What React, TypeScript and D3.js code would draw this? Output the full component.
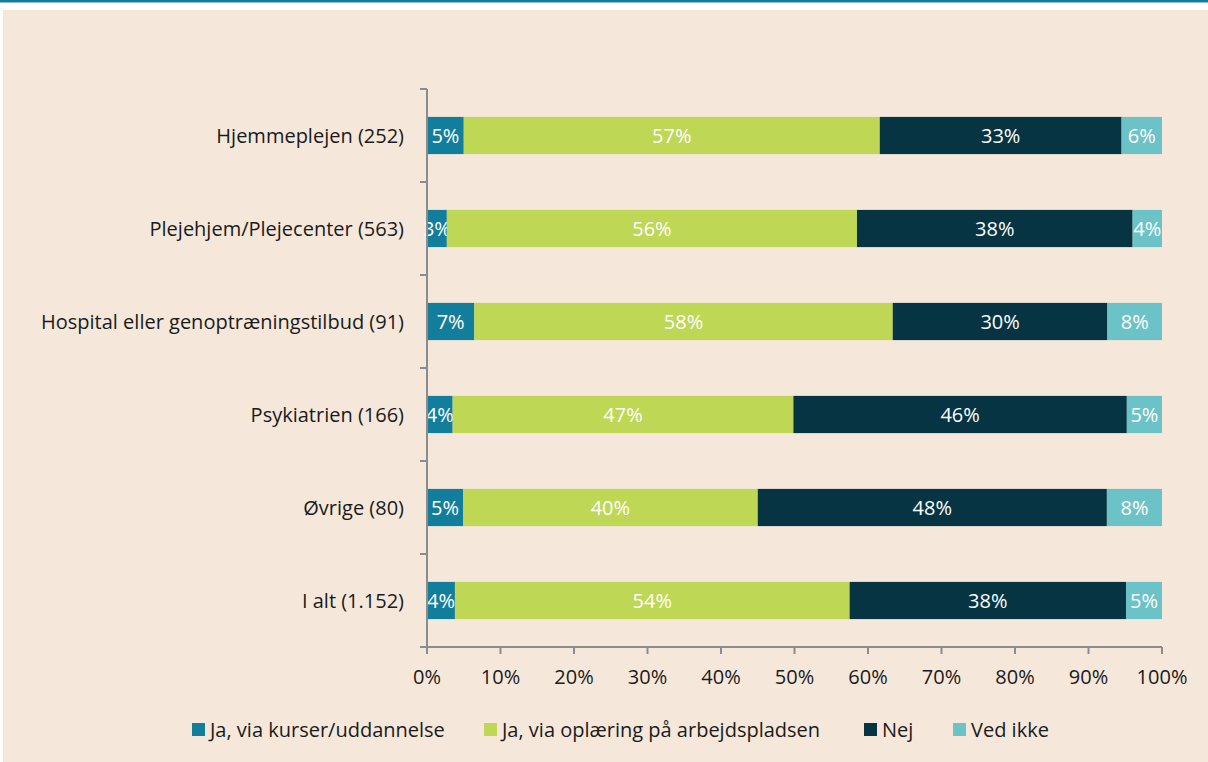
import React, { useRef, useEffect } from 'react';
import * as d3 from 'd3';

const categories = [
  'Hjemmeplejen (252)',
  'Plejehjem/Plejecenter (563)',
  'Hospital eller genoptræningstilbud (91)',
  'Psykiatrien (166)',
  'Øvrige (80)',
  'I alt (1.152)',
];
const series = ['Ja, via kurser/uddannelse', 'Ja, via oplæring på arbejdspladsen', 'Nej', 'Ved ikke'];
const kurser = [5.0, 2.7, 6.5, 3.5, 4.9, 3.8];
const oplaering = [56.6, 55.8, 57.5, 46.5, 40.1, 53.7];
const nej = [32.9, 37.5, 29.5, 45.5, 47.5, 37.6];
const vedIkke = [5.5, 4.0, 7.5, 4.8, 7.5, 4.9];
const xTicks = [0, 0.1, 0.2, 0.3, 0.4, 0.5, 0.6, 0.7, 0.8, 0.9, 1];
const colors = ['#137e9c', '#bed755', '#063443', '#6cc3c7'];

const W = 1208;
const H = 762;
const FONT = "'Open Sans', 'Noto Sans', sans-serif";

const App = () => {
  const svgRef = useRef<SVGSVGElement>(null);

  useEffect(() => {
    const svg = d3.select(svgRef.current).html('');

    // background
    svg.append('rect').attr('width', W).attr('height', H).attr('fill', '#ffffff');
    svg.append('rect').attr('x', 3).attr('y', 10).attr('width', W - 3).attr('height', H - 10).attr('fill', '#f5e8db');
    svg.append('rect').attr('width', W).attr('height', 2.5).attr('fill', '#147d99');

    const x = d3.scaleLinear().domain([0, 1]).range([427, 1162]);
    const y = d3.scaleBand().domain(categories).range([89, 647]).paddingInner(0.6).paddingOuter(0.3);
    const band = (647 - 89) / categories.length;

    const rows = categories.map((c, i) => ({
      cat: c,
      [series[0]]: kurser[i],
      [series[1]]: oplaering[i],
      [series[2]]: nej[i],
      [series[3]]: vedIkke[i],
    }));
    const stacked = d3.stack<any>().keys(series).offset(d3.stackOffsetExpand)(rows);

    const g = svg.append('g');
    stacked.forEach((layer, si) => {
      layer.forEach((d, i) => {
        const x0 = x(d[0]);
        const x1 = x(d[1]);
        const yy = y(categories[i])!;
        g.append('rect')
          .attr('x', x0)
          .attr('y', yy)
          .attr('width', x1 - x0)
          .attr('height', y.bandwidth())
          .attr('fill', colors[si]);
        g.append('text')
          .attr('x', (x0 + x1) / 2)
          .attr('y', yy + y.bandwidth() / 2)
          .attr('dy', '0.35em')
          .attr('text-anchor', 'middle')
          .attr('fill', '#ffffff')
          .style('font-family', FONT)
          .style('font-size', '20px')
          .text(Math.round((d.data as any)[series[si]]) + '%');
      });
    });

    // axes
    const axisColor = '#8c8c8c';
    svg.append('line').attr('x1', x(0)).attr('x2', x(0)).attr('y1', 89).attr('y2', 647)
      .attr('stroke', axisColor).attr('stroke-width', 2);
    svg.append('line').attr('x1', x(0) - 7).attr('x2', x(1)).attr('y1', 647).attr('y2', 647)
      .attr('stroke', axisColor).attr('stroke-width', 2);
    for (let i = 0; i < categories.length; i++) {
      const ty = 89 + i * band;
      svg.append('line').attr('x1', x(0) - 7).attr('x2', x(0)).attr('y1', ty).attr('y2', ty)
        .attr('stroke', axisColor).attr('stroke-width', 2);
    }
    xTicks.forEach(t => {
      svg.append('line').attr('x1', x(t)).attr('x2', x(t)).attr('y1', 647).attr('y2', 654)
        .attr('stroke', axisColor).attr('stroke-width', 2);
      svg.append('text')
        .attr('x', x(t)).attr('y', 677).attr('dy', '0.35em')
        .attr('text-anchor', 'middle').attr('fill', '#1a1a1a')
        .style('font-family', FONT).style('font-size', '20px')
        .text(d3.format('.0%')(t));
    });
    categories.forEach(c => {
      svg.append('text')
        .attr('x', 404).attr('y', y(c)! + y.bandwidth() / 2).attr('dy', '0.35em')
        .attr('text-anchor', 'end').attr('fill', '#1a1a1a')
        .style('font-family', FONT).style('font-size', '20px')
        .text(c);
    });

    // legend
    const legendX = [192, 484, 864, 953];
    series.forEach((s, i) => {
      svg.append('rect').attr('x', legendX[i]).attr('y', 723).attr('width', 13).attr('height', 13).attr('fill', colors[i]);
      svg.append('text')
        .attr('x', legendX[i] + 18).attr('y', 730).attr('dy', '0.35em')
        .attr('fill', '#1a1a1a')
        .style('font-family', FONT).style('font-size', '20px')
        .text(s);
    });
  }, []);

  return (
    <svg ref={svgRef} width={W} height={H} style={{ position: 'absolute', left: 0, top: 0 }}></svg>
  );
};

export default App;
